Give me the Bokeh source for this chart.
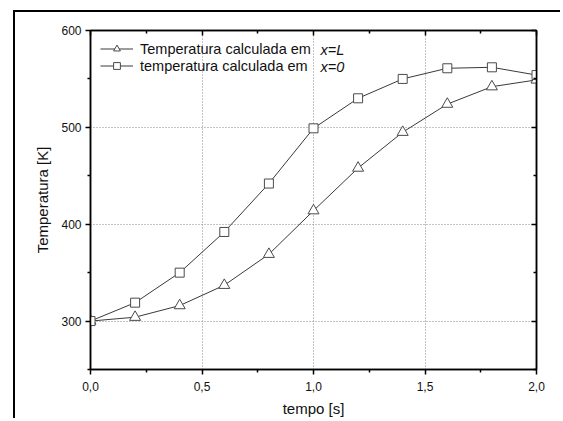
from bokeh.plotting import figure
from bokeh.models import (Range1d, LinearAxis, FixedTicker, Legend, LegendItem, Label)
from bokeh.embed import file_html
from bokeh.resources import INLINE

# data
tempo = [0.0, 0.2, 0.4, 0.6, 0.8, 1.0, 1.2, 1.4, 1.6, 1.8, 2.0]
temp_xL = [300, 304, 316, 337, 369, 414, 458, 495, 524, 542, 549]
temp_x0 = [300, 319, 350, 392, 442, 499, 530, 550, 561, 562, 554]

x_ticks = [0.0, 0.5, 1.0, 1.5, 2.0]
x_tick_labels = ["0,0", "0,5", "1,0", "1,5", "2,0"]
x_minor = [0.25, 0.75, 1.25, 1.75]
y_ticks = [300, 400, 500, 600]
y_minor = [250, 350, 450, 550]

label_L = "Temperatura calculada em"
label_0 = "temperatura calculada em"
FONT = "Liberation Sans"

p = figure(width=547, height=408, output_backend="svg", toolbar_location=None,
           x_range=Range1d(0, 2), y_range=Range1d(250, 600),
           min_border_left=75, min_border_right=26, min_border_top=18, min_border_bottom=51,
           margin=(10, 0, 0, 13))
p.styles = {"border-left": "2px solid black", "border-top": "2px solid black"}
p.background_fill_color = "white"
p.border_fill_color = "white"
p.outline_line_color = "black"
p.outline_line_width = 1.5

# axes
xa = p.xaxis[0]
ya = p.yaxis[0]
xa.ticker = FixedTicker(ticks=x_ticks, minor_ticks=x_minor)
xa.major_label_overrides = {t: l for t, l in zip(x_ticks, x_tick_labels)}
ya.ticker = FixedTicker(ticks=y_ticks, minor_ticks=y_minor)
xa.axis_label = "tempo [s]"
ya.axis_label = "Temperatura [K]"
for ax in (xa, ya):
    ax.axis_line_width = 1.5
    ax.axis_line_color = "black"
    ax.major_tick_out = 5
    ax.major_tick_in = 0
    ax.minor_tick_out = 3
    ax.minor_tick_in = 0
    ax.major_tick_line_width = 1.5
    ax.minor_tick_line_width = 1.5
    ax.major_label_text_font = FONT
    ax.major_label_text_font_size = "12px"
    ax.major_label_text_color = "#111111"
    ax.axis_label_text_font = FONT
    ax.axis_label_text_font_size = "15px"
    ax.axis_label_text_font_style = "normal"
    ax.axis_label_text_color = "#111111"
xa.major_label_standoff = 7
xa.axis_label_standoff = 6
ya.major_label_standoff = 4
ya.axis_label_standoff = 7

top = LinearAxis(ticker=FixedTicker(ticks=x_ticks, minor_ticks=x_minor))
right = LinearAxis(ticker=FixedTicker(ticks=y_ticks, minor_ticks=y_minor))
for ax in (top, right):
    ax.axis_line_width = 1.5
    ax.major_tick_out = 0
    ax.major_tick_in = 5
    ax.minor_tick_out = 0
    ax.minor_tick_in = 3
    ax.major_tick_line_width = 1.5
    ax.minor_tick_line_width = 1.5
    ax.major_label_text_color = None
    ax.major_label_standoff = 0
p.add_layout(top, "above")
p.add_layout(right, "right")

# grid
for g in (p.xgrid[0], p.ygrid[0]):
    g.grid_line_color = "#8a8a8a"
    g.grid_line_dash = "1 2"
    g.grid_line_width = 1
p.xgrid[0].ticker = FixedTicker(ticks=x_ticks)
p.ygrid[0].ticker = FixedTicker(ticks=y_ticks)

# series
lc = "#3a3a3a"
mc = "#4a4a4a"
lL = p.line(tempo, temp_xL, line_color=lc, line_width=1)
mL = p.scatter(tempo, temp_xL, marker="triangle", size=11, fill_color="white", line_color=mc, line_width=1)
l0 = p.line(tempo, temp_x0, line_color=lc, line_width=1)
m0 = p.scatter(tempo, temp_x0, marker="square", size=9, fill_color="white", line_color=mc, line_width=1)

legend = Legend(items=[LegendItem(label=label_L, renderers=[lL, mL]),
                       LegendItem(label=label_0, renderers=[l0, m0])],
                location="top_left")
legend.border_line_color = None
legend.background_fill_alpha = 0
legend.margin = 10
legend.padding = 4
legend.spacing = 0
legend.glyph_width = 33
legend.glyph_height = 17
legend.label_height = 17
legend.label_standoff = 7
legend.label_text_font = FONT
legend.label_text_font_size = "14.5px"
legend.label_text_color = "#111111"
p.add_layout(legend)

for txt, yy in (("x=L", 320), ("x=0", 303)):
    p.add_layout(Label(x=230, y=yy, x_units="screen", y_units="screen",
                       text=txt, text_font=FONT, text_font_size="14.5px",
                       text_font_style="italic", text_color="#111111",
                       text_baseline="middle"))

open("out.html", "w").write(file_html(p, INLINE))
